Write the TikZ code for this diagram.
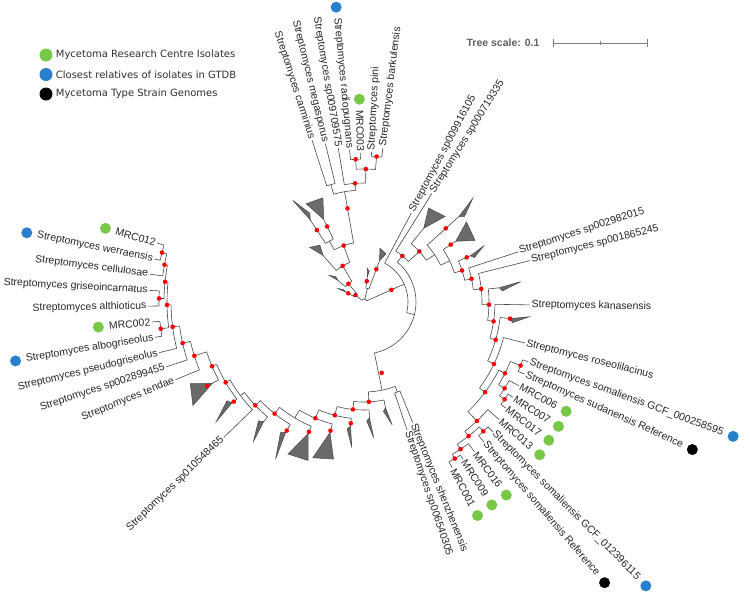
\documentclass[tikz,border=0pt]{standalone}
\usepackage{fontspec}
\setmainfont{Liberation Sans}
\newfontfamily\legendfont{DejaVu Sans}
\usetikzlibrary{calc,positioning}
\definecolor{isogreen}{RGB}{120,200,72}
\definecolor{gtdbblue}{RGB}{40,128,204}
\definecolor{typeblack}{RGB}{0,0,0}
\definecolor{bootred}{RGB}{255,0,0}
\definecolor{scalegray}{RGB}{95,95,95}
\definecolor{bargray}{RGB}{125,125,125}
\newcommand{\radbr}[3]{\draw[branch] (#1:#2) -- (#1:#3);}
\newcommand{\arcbr}[3]{\draw[branch] (#1:#3) arc[start angle=#1, end angle=#2, radius=#3];}
\newcommand{\bsdot}[2]{\fill[bootred] (#1:#2) circle[radius=2.3pt];}
\newcommand{\clapse}[5]{\filldraw[cladetri] (#1:#2) -- ({#1-#5}:#3) -- ({#1+#5}:#4) -- cycle;}
\newcommand{\tipR}[4]{\node[leaflbl, anchor=west, rotate={0-(#1)}] (#3) at (#1:#2) {#4};}
\newcommand{\tipL}[4]{\node[leaflbl, anchor=east, rotate={180-(#1)}] (#3) at (#1:#2) {#4};}
\newcommand{\mkR}[3]{\node[mk, fill=#3] (#1m) at ($(#1.east)+(#2:9)$) {};}
\newcommand{\mkL}[3]{\node[mk, fill=#3] (#1m) at ($(#1.west)+(#2:9)$) {};}

\begin{document}
\begin{tikzpicture}[x=1pt, y=-1pt,
  branch/.style={draw=black!72, line width=0.6pt},
  leaflbl/.style={font=\fontsize{10.5}{12}\selectfont, text=black!85, inner sep=1.5pt},
  mk/.style={circle, minimum size=11pt, inner sep=0pt},
  cladetri/.style={fill=black!58, draw=black!72, line width=0.5pt},
  legtext/.style={font=\legendfont\fontsize{10}{12}\selectfont, text=black!82, inner sep=2pt}]
  \useasboundingbox (0,0) rectangle (750,595);

  % legend
  \node[mk, minimum size=13pt, fill=isogreen] (lgiso) at (46,55) {};
  \node[legtext, right=1pt of lgiso] (lgisotxt) {Mycetoma Research Centre Isolates};
  \node[mk, minimum size=13pt, fill=gtdbblue] (lggtdb) at (46,74.5) {};
  \node[legtext, right=1pt of lggtdb] (lggtdbtxt) {Closest relatives of isolates in GTDB};
  \node[mk, minimum size=13pt, fill=typeblack] (lgtype) at (46,94) {};
  \node[legtext, right=1pt of lgtype] (lgtypetxt) {Mycetoma Type Strain Genomes};

  % tree scale
  \node[font=\bfseries\fontsize{10.5}{12}\selectfont, text=scalegray, inner sep=0pt] (scaletxt) at (503,43) {Tree scale: 0.1};
  \draw[bargray, line width=1pt] (553,43) coordinate (barL) -- (647,43) coordinate (barR);
  \draw[bargray, line width=1pt] (barL) ++(0,-4) -- ++(0,8) (barR) ++(0,-4) -- ++(0,8)
    ($(barL)!0.5!(barR)$) ++(0,-2) -- ++(0,4);

  \begin{scope}[shift={(364,302)}]
  % root
  \arcbr{219.25}{336}{3}
  \radbr{219.25}{3}{11} \radbr{284.1}{3}{14} \radbr{336}{3}{44}
  \bsdot{336}{30}

  % top group
  \arcbr{209}{229.5}{11} \bsdot{219.25}{11}
  \radbr{209}{11}{20} \clapse{209}{20}{30}{24}{1.8} \bsdot{209}{18}
  \radbr{229.5}{11}{24}
  \arcbr{219.6}{239.45}{24} \bsdot{229.5}{24}
  \radbr{219.6}{24}{34} \clapse{219.6}{34}{44}{38}{2.2}
  \radbr{239.45}{24}{42}
  \arcbr{228.7}{250.2}{42} \bsdot{239.45}{42}
  \radbr{228.7}{42}{62} \clapse{228.7}{62}{77}{72}{3.5}
  \radbr{250.2}{42}{60}
  \arcbr{240.4}{260}{60} \bsdot{250.2}{60}
  \radbr{240.4}{60}{70}
  \arcbr{236.8}{244}{70}
  \radbr{236.8}{70}{98} \clapse{236.8}{98}{124}{104}{1.8} \bsdot{236.8}{86}
  \radbr{244}{70}{92} \clapse{244}{92}{114}{112}{4.5} \bsdot{244}{84}
  \radbr{260}{60}{112} \bsdot{260}{95}
  \arcbr{254.25}{265.65}{112}
  \radbr{254.25}{112}{122} \radbr{265.65}{112}{119}
  \arcbr{252.2}{256.3}{122}
  \radbr{252.2}{122}{170} \tipL{252.2}{170}{lcarm}{Streptomyces carminius}
  \radbr{256.3}{122}{163} \tipL{256.3}{163}{lmega}{Streptomyces megasporus}
  \arcbr{260.5}{270.8}{119} \bsdot{265.65}{119}
  \radbr{260.5}{119}{156} \tipL{260.5}{156}{lsp097}{Streptomyces sp009709575}
  \radbr{270.8}{119}{133}
  \arcbr{266.65}{274.95}{133} \bsdot{270.8}{133}
  \radbr{266.65}{133}{143} \radbr{274.95}{133}{146}
  \arcbr{264.6}{268.7}{143} \bsdot{266.65}{143}
  \radbr{264.6}{143}{153} \tipL{264.6}{153}{lradio}{Streptomyces radiopugnans} \mkL{lradio}{264.6}{gtdbblue}
  \radbr{268.7}{143}{149} \tipL{268.7}{149}{lmrc003}{MRC003} \mkL{lmrc003}{268.7}{isogreen}
  \arcbr{272.9}{277}{146} \bsdot{274.95}{146}
  \radbr{272.9}{146}{150} \tipR{-87.1}{150}{lpini}{Streptomyces pini}
  \radbr{277}{146}{155} \tipR{-83}{155}{lbark}{Streptomyces barkulensis}
  \arcbr{277.6}{290.6}{14}
  \radbr{277.6}{14}{26} \clapse{277.6}{26}{34}{31}{2.2} \bsdot{277.6}{21}
  \radbr{290.6}{14}{44} \clapse{290.6}{44}{56}{53}{4} \bsdot{290.6}{35}

  % right group
  \arcbr{-62}{14.1}{44}
  \radbr{-62}{44}{101} \tipR{-62}{101}{lsp099}{Streptomyces sp009916105}
  \radbr{14.1}{44}{52}
  \arcbr{-50.2}{78.45}{52}
  \radbr{-50.2}{52}{60} \bsdot{-50.2}{60}
  \arcbr{-58}{-42.4}{60}
  \radbr{-58}{60}{128} \tipR{-58}{128}{lsp007}{Streptomyces sp000719335}
  \radbr{-42.4}{60}{75} \bsdot{-42.4}{75}
  \arcbr{-51}{-33.8}{75}
  \radbr{-51}{75}{95} \clapse{-51}{95}{114}{118}{4.5}
  \radbr{-33.8}{75}{85}
  \arcbr{-42}{-25.67}{85}
  \radbr{-42}{85}{128} \clapse{-42}{128}{150}{132}{1.6} \bsdot{-42}{110}
  \radbr{-25.67}{85}{95}
  \arcbr{-33.5}{-17.84}{95}
  \radbr{-33.5}{95}{110} \clapse{-33.5}{110}{130}{127}{4.5} \bsdot{-33.5}{104}
  \radbr{-17.84}{95}{103}
  \arcbr{-23.5}{-12.19}{103} \bsdot{-17.84}{103}
  \radbr{-23.5}{103}{116} \clapse{-23.5}{116}{132}{119}{1.6} \bsdot{-23.5}{112}
  \radbr{-12.19}{103}{110}
  \arcbr{-18}{-6.375}{110} \bsdot{-12.19}{110}
  \radbr{-18}{110}{162} \tipR{-18}{162}{lsp029}{Streptomyces sp002982015}
  \radbr{-6.375}{110}{118}
  \arcbr{-14}{1.25}{118} \bsdot{-6.375}{118}
  \radbr{-14}{118}{171} \tipR{-14}{171}{lsp018}{Streptomyces sp001865245}
  \radbr{1.25}{118}{125}
  \arcbr{-6}{8.5}{125} \bsdot{1.25}{125}
  \radbr{-6}{125}{136} \clapse{-6}{136}{158}{139}{1.4}
  \radbr{8.5}{125}{131}
  \arcbr{1}{16}{131} \bsdot{8.5}{131}
  \radbr{1}{131}{166} \tipR{1}{166}{lkana}{Streptomyces kanasensis}
  \radbr{16}{131}{137}
  \arcbr{6.5}{25.5}{137} \bsdot{16}{137}
  \radbr{6.5}{137}{147} \clapse{6.5}{147}{166}{150}{1.4} \bsdot{6.5}{147}
  \radbr{25.5}{137}{144}
  \arcbr{14.3}{36.67}{144} \bsdot{25.5}{144}
  \radbr{14.3}{144}{166} \tipR{14.3}{166}{lrose}{Streptomyces roseolilacinus}
  \radbr{36.67}{144}{151}
  \arcbr{26.83}{46.5}{151} \bsdot{36.67}{151}
  \radbr{26.83}{151}{158} \radbr{46.5}{151}{164}
  \arcbr{22.1}{31.55}{158} \bsdot{26.83}{158}
  \radbr{22.1}{158}{169} \radbr{31.55}{158}{165}
  \arcbr{20}{24.2}{169} \bsdot{22.1}{169}
  \radbr{20}{169}{175} \tipR{20}{175}{lgcf025}{Streptomyces somaliensis GCF\_000258595} \mkR{lgcf025}{20}{gtdbblue}
  \radbr{24.2}{169}{176} \tipR{24.2}{176}{lsudan}{Streptomyces sudanensis Reference} \mkR{lsudan}{24.2}{typeblack}
  \arcbr{28.4}{34.7}{165} \bsdot{31.55}{165}
  \radbr{28.4}{165}{176} \tipR{28.4}{176}{lmrc006}{MRC006} \mkR{lmrc006}{28.4}{isogreen}
  \radbr{34.7}{165}{171}
  \arcbr{32.6}{36.8}{171} \bsdot{34.7}{171}
  \radbr{32.6}{171}{177} \tipR{32.6}{177}{lmrc007}{MRC007} \mkR{lmrc007}{32.6}{isogreen}
  \radbr{36.8}{171}{177} \tipR{36.8}{177}{lmrc017}{MRC017} \mkR{lmrc017}{36.8}{isogreen}
  \arcbr{41}{52.03}{164} \bsdot{46.5}{164}
  \radbr{41}{164}{179} \tipR{41}{179}{lmrc013}{MRC013} \mkR{lmrc013}{41}{isogreen}
  \radbr{52.03}{164}{170}
  \arcbr{47.3}{56.75}{170} \bsdot{52.03}{170}
  \radbr{47.3}{170}{176} \radbr{56.75}{170}{176}
  \arcbr{45.2}{49.4}{176} \bsdot{47.3}{176}
  \radbr{45.2}{176}{183} \tipR{45.2}{183}{lgcf123}{Streptomyces somaliensis GCF\_012396115} \mkR{lgcf123}{45.2}{gtdbblue}
  \radbr{49.4}{176}{184} \tipR{49.4}{184}{lsomref}{Streptomyces somaliensis Reference} \mkR{lsomref}{49.4}{typeblack}
  \arcbr{53.6}{59.9}{176} \bsdot{56.75}{176}
  \radbr{53.6}{176}{186} \tipR{53.6}{186}{lmrc016}{MRC016} \mkR{lmrc016}{53.6}{isogreen}
  \radbr{59.9}{176}{181}
  \arcbr{57.8}{62}{181} \bsdot{59.9}{181}
  \radbr{57.8}{181}{186} \tipR{57.8}{186}{lmrc009}{MRC009} \mkR{lmrc009}{57.8}{isogreen}
  \radbr{62}{181}{188} \tipR{62}{188}{lmrc001}{MRC001} \mkR{lmrc001}{62}{isogreen}

  % bottom and left ladder
  \radbr{78.45}{52}{90} \bsdot{76}{73}
  \arcbr{69.7}{87.2}{90}
  \radbr{69.7}{90}{96}
  \arcbr{68}{71.4}{96}
  \radbr{68}{96}{130} \tipR{68}{130}{lshen}{Streptomyces shenzhenensis}
  \radbr{71.4}{96}{135} \tipR{71.4}{135}{lsp065}{Streptomyces sp006540305}
  \radbr{87.2}{90}{100}
  \arcbr{78.5}{95.9}{100} \bsdot{87.2}{100}
  \radbr{78.5}{100}{108} \clapse{78.5}{108}{126}{111}{1.4}
  \radbr{95.9}{100}{108}
  \arcbr{87.3}{104.45}{108} \bsdot{95.9}{108}
  \radbr{87.3}{108}{116} \clapse{87.3}{116}{136}{119}{1.4}
  \radbr{104.45}{108}{117}
  \arcbr{96.2}{112.7}{117} \bsdot{104.45}{117}
  \radbr{96.2}{117}{125} \clapse{96.2}{125}{146}{128}{1.4} \bsdot{96.2}{122}
  \radbr{112.7}{117}{126}
  \arcbr{104.6}{120.85}{126} \bsdot{112.7}{126}
  \radbr{104.6}{126}{135} \clapse{104.6}{135}{160}{164}{3.6} \bsdot{104.6}{133}
  \radbr{120.85}{126}{135}
  \arcbr{113}{128.7}{135}
  \radbr{113}{135}{143} \clapse{113}{143}{168}{170}{3.6} \bsdot{113}{141}
  \radbr{128.7}{135}{143}
  \arcbr{121}{136.45}{143} \bsdot{128.7}{143}
  \radbr{121}{143}{152} \clapse{121}{152}{180}{155}{1.6} \bsdot{121}{150}
  \radbr{136.45}{143}{150}
  \arcbr{130}{142.9}{150} \bsdot{136.45}{150}
  \radbr{130}{150}{156} \clapse{130}{156}{178}{159}{1.6}
  \radbr{142.9}{150}{155}
  \arcbr{136}{149.85}{155}
  \radbr{136}{155}{195} \tipL{136}{195}{lsp105}{Streptomyces sp010548465}
  \radbr{149.85}{155}{160}
  \arcbr{142.6}{157.1}{160} \bsdot{149.85}{160}
  \radbr{142.6}{160}{166} \clapse{142.6}{166}{190}{169}{1.6} \bsdot{142.6}{164}
  \radbr{157.1}{160}{165}
  \arcbr{151.8}{162.4}{165} \bsdot{157.1}{165}
  \radbr{151.8}{165}{172} \clapse{151.8}{172}{200}{192}{3} \bsdot{151.8}{178}
  \radbr{162.4}{165}{178}
  \arcbr{157.6}{167.23}{178} \bsdot{162.4}{178}
  \radbr{157.6}{178}{204} \tipL{157.6}{204}{ltend}{Streptomyces tendae}
  \radbr{167.23}{178}{186}
  \arcbr{161.86}{172.6}{186} \bsdot{167.23}{186}
  \radbr{161.86}{186}{208} \tipL{161.86}{208}{lsp028}{Streptomyces sp002899455}
  \radbr{172.6}{186}{193}
  \arcbr{166.1}{179.15}{193} \bsdot{172.6}{193}
  \radbr{166.1}{193}{211} \tipL{166.1}{211}{lpseu}{Streptomyces pseudogriseolus}
  \radbr{179.15}{193}{197}
  \arcbr{172.5}{185.79}{197} \bsdot{179.15}{197}
  \radbr{172.5}{197}{205} \radbr{185.79}{197}{200}
  \arcbr{170.4}{174.6}{205} \bsdot{172.5}{205}
  \radbr{170.4}{205}{212} \tipL{170.4}{212}{lalbo}{Streptomyces albogriseolus} \mkL{lalbo}{170.4}{gtdbblue}
  \radbr{174.6}{205}{213} \tipL{174.6}{213}{lmrc002}{MRC002} \mkL{lmrc002}{174.6}{isogreen}
  \arcbr{181}{190.58}{200} \bsdot{185.79}{200}
  \radbr{181}{200}{205} \radbr{190.58}{200}{203}
  \arcbr{178.9}{183.1}{205} \bsdot{181}{205}
  \radbr{178.9}{205}{216} \tipL{178.9}{216}{lalth}{Streptomyces althioticus}
  \radbr{183.1}{205}{215} \tipL{183.1}{215}{lgris}{Streptomyces griseoincarnatus}
  \arcbr{187.4}{193.75}{203} \bsdot{190.58}{203}
  \radbr{187.4}{203}{216} \tipL{187.4}{216}{lcell}{Streptomyces cellulosae}
  \radbr{193.75}{203}{208}
  \arcbr{191.6}{195.9}{208} \bsdot{193.75}{208}
  \radbr{191.6}{208}{214} \tipL{191.6}{214}{lwerr}{Streptomyces werraensis} \mkL{lwerr}{191.6}{gtdbblue}
  \radbr{195.9}{208}{215} \tipL{195.9}{215}{lmrc012}{MRC012} \mkL{lmrc012}{195.9}{isogreen}
  \end{scope}
\end{tikzpicture}
\end{document}
